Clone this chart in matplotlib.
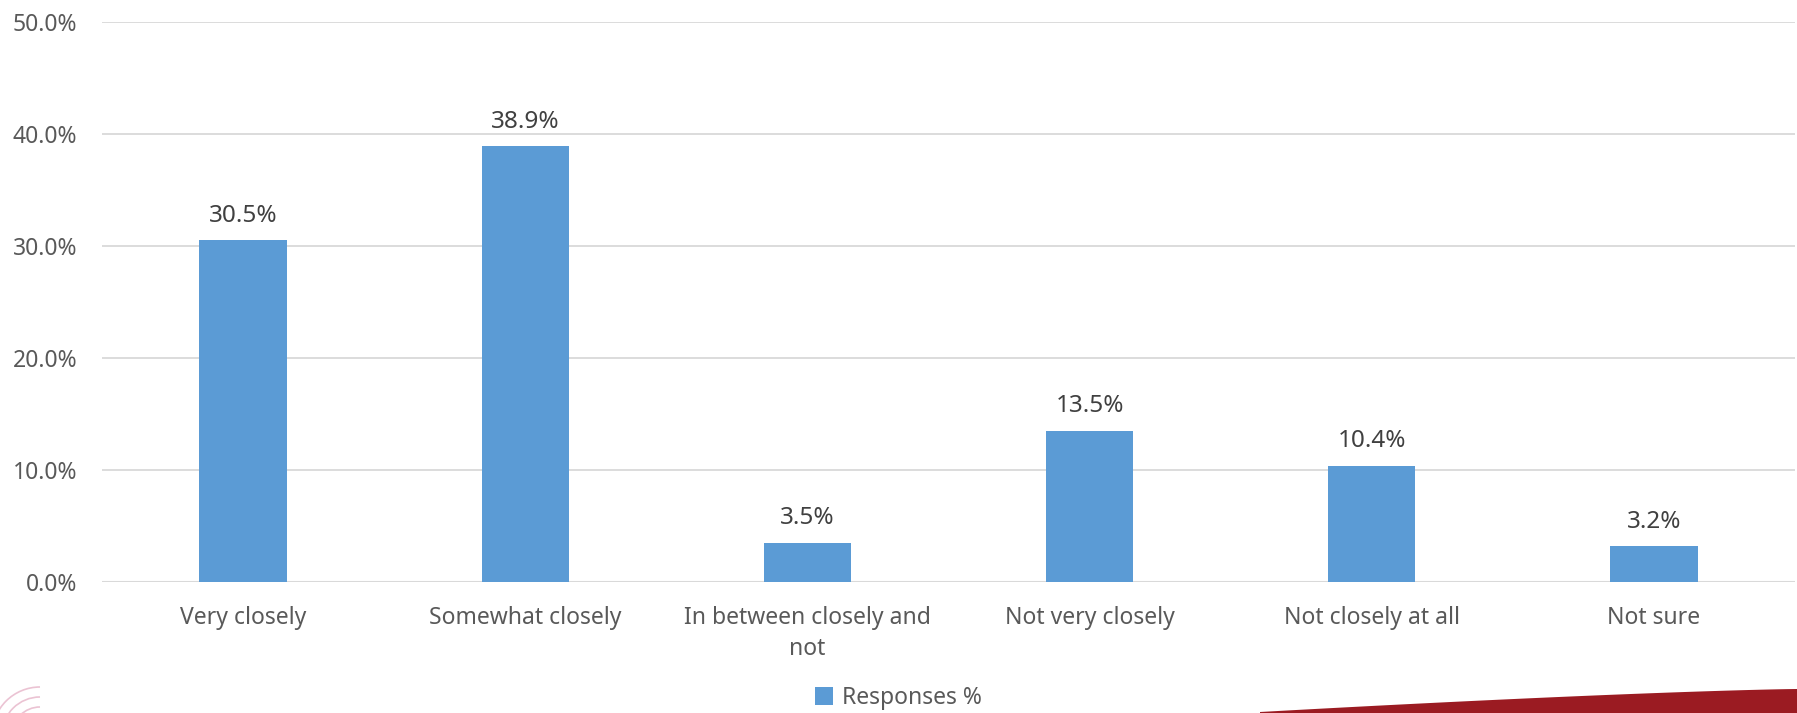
import numpy as np
import matplotlib.pyplot as plt
from matplotlib.patches import Polygon, Arc

categories = ["Very closely", "Somewhat closely", "In between closely and\nnot",
              "Not very closely", "Not closely at all", "Not sure"]
responses = [30.5, 38.9, 3.5, 13.5, 10.4, 3.2]
series_name = "Responses %"

plt.rcParams['font.family'] = ['Noto Sans', 'DejaVu Sans']
grey = '#595959'

fig = plt.figure(figsize=(17.97, 7.13), dpi=100)
ax = fig.add_axes([102 / 1797, 1 - 582 / 713, 1693 / 1797, 560 / 713])

x = np.arange(len(categories))
bars = ax.bar(x, responses, width=0.31, color='#5B9BD5', label=series_name, zorder=3)

for xi, v in zip(x, responses):
    ax.annotate(f"{v:.1f}%", (xi, v), xytext=(0, 9), textcoords='offset points',
                ha='center', va='bottom', fontsize=17.5, color='#404040')

ax.set_xlim(-0.5, len(categories) - 0.5)
ax.set_ylim(0, 50)
ax.set_yticks(np.arange(0, 51, 10))
ax.set_yticklabels([f"{t:.1f}%" for t in np.arange(0, 51, 10)])
ax.set_xticks(x)
ax.set_xticklabels(categories, linespacing=1.4)
ax.tick_params(axis='both', length=0, labelsize=16.5, colors=grey)
ax.tick_params(axis='y', pad=18)
ax.tick_params(axis='x', pad=17)
ax.grid(axis='y', color='#D9D9D9', linewidth=1.3, zorder=0)
for s in ax.spines.values():
    s.set_visible(False)
ax.axhline(0, color='#D9D9D9', linewidth=1.5, zorder=2)

leg = fig.legend(handles=[bars], labels=[series_name], loc='center',
                 bbox_to_anchor=(0.5, 1 - 698 / 713), frameon=False, fontsize=16.5,
                 handlelength=0.8, handleheight=0.8, handletextpad=0.4)
for t in leg.get_texts():
    t.set_color(grey)

# slide decoration: red swoosh at bottom right
xs = np.linspace(1260, 1797, 60)
top = 713 - (24 - 23 * ((1797 - xs) / 537) ** 1.3)
verts = [(px / 1797, 1 - py / 713) for px, py in zip(xs, top)]
verts += [(1, 0), (1260 / 1797, 0)]
fig.patches.append(Polygon(verts, closed=True, transform=fig.transFigure,
                           facecolor='#9B1B22', edgecolor='none'))

# faint pink arcs at bottom left
for r in [28, 38, 48]:
    fig.patches.append(Arc((40 / 1797, 1 - 735 / 713), 2 * r / 1797, 2 * r / 713,
                           theta1=90, theta2=180, transform=fig.transFigure,
                           color='#EBC3D3', linewidth=1.2))

fig.savefig('out.png', dpi=100)
